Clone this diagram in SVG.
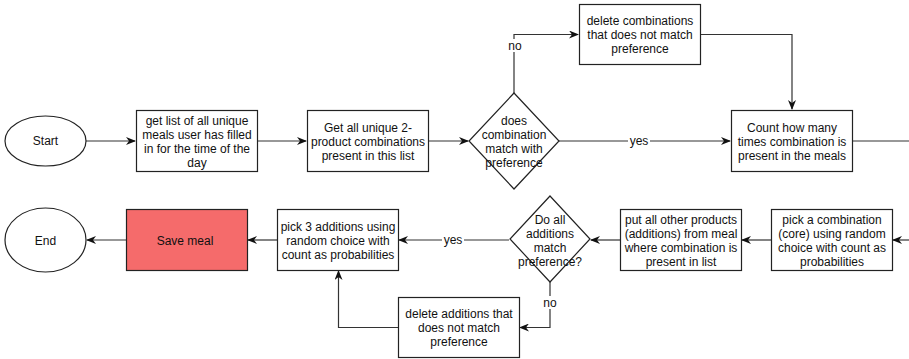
<svg xmlns="http://www.w3.org/2000/svg" width="909" height="359" viewBox="0 0 909 359">
  <style>
    .node { fill: #ffffff; stroke: #222222; stroke-width: 1.2; }
    .save { fill: #f56b6b; }
    .edge { fill: none; stroke: #333333; stroke-width: 1.2; marker-end: url(#arrow); }
    .edge-plain { fill: none; stroke: #333333; stroke-width: 1.2; }
    text { font-family: "Liberation Sans", Arial, sans-serif; font-size: 12px; fill: #111111; text-anchor: middle; dominant-baseline: central; }
    .lbl-bg { fill: #ffffff; }
  </style>
  <defs>
    <marker id="arrow" viewBox="0 0 10 8" refX="9" refY="4" markerWidth="10" markerHeight="8" markerUnits="userSpaceOnUse" orient="auto">
      <path d="M0,0 L10,4 L0,8 L3,4 z" fill="#111111"/>
    </marker>
  </defs>

  <g id="connectors">
    <path class="edge" d="M86,141 H135"/>
    <path class="edge" d="M257,141 H306"/>
    <path class="edge" d="M428,141 H468"/>
    <path class="edge" d="M559,141 H730"/>
    <path class="edge" d="M514,93 V34.5 H578"/>
    <path class="edge" d="M701,34.5 H792 V109"/>
    <path class="edge-plain" d="M852,141 H909"/>
    <path class="edge" d="M909,240 H893"/>
    <path class="edge" d="M771,240 H742"/>
    <path class="edge" d="M620,240 H591"/>
    <path class="edge" d="M509,240 H399"/>
    <path class="edge" d="M550,282 V327.5 H520"/>
    <path class="edge" d="M398,327.5 H338.5 V271"/>
    <path class="edge" d="M277,240 H248"/>
    <path class="edge" d="M126,240 H87"/>
    <rect class="lbl-bg" x="628" y="134" width="22" height="13"/>
    <text x="639" y="140.5">yes</text>
    <rect class="lbl-bg" x="506" y="39" width="18" height="13"/>
    <text x="515" y="45.5">no</text>
    <rect class="lbl-bg" x="442" y="233" width="22" height="13"/>
    <text x="453" y="240">yes</text>
    <rect class="lbl-bg" x="541" y="296" width="18" height="13"/>
    <text x="550" y="302.5">no</text>
  </g>

  <g id="start">
    <ellipse class="node" cx="45.5" cy="141" rx="40.5" ry="25"/>
    <text x="45.5" y="141">Start</text>
  </g>

  <g id="get-meals">
    <rect class="node" x="136.5" y="110.5" width="121" height="61"/>
    <text x="197" y="121">get list of all unique</text>
    <text x="197" y="135">meals user has filled</text>
    <text x="197" y="149">in for the time of the</text>
    <text x="197" y="163">day</text>
  </g>

  <g id="get-combinations">
    <rect class="node" x="307.5" y="110.5" width="121" height="61"/>
    <text x="368" y="127.5">Get all unique 2-</text>
    <text x="368" y="141.5">product combinations</text>
    <text x="368" y="155.5">present in this list</text>
  </g>

  <g id="combination-check">
    <polygon class="node" points="514,93 559,141 514,189 469,141"/>
    <text x="514" y="121">does</text>
    <text x="514" y="135">combination</text>
    <text x="514" y="149">match with</text>
    <text x="514" y="163">preference</text>
  </g>

  <g id="delete-combinations">
    <rect class="node" x="579.5" y="4.5" width="121" height="60"/>
    <text x="640" y="20.5">delete combinations</text>
    <text x="640" y="34.5">that does not match</text>
    <text x="640" y="48.5">preference</text>
  </g>

  <g id="count-combinations">
    <rect class="node" x="731.5" y="110.5" width="121" height="61"/>
    <text x="792" y="127.5">Count how many</text>
    <text x="792" y="141.5">times combination is</text>
    <text x="792" y="155.5">present in the meals</text>
  </g>

  <g id="pick-combination">
    <rect class="node" x="771.5" y="209.5" width="121" height="61"/>
    <text x="832" y="219.5">pick a combination</text>
    <text x="832" y="233.5">(core) using random</text>
    <text x="832" y="247.5">choice with count as</text>
    <text x="832" y="261.5">probabilities</text>
  </g>

  <g id="collect-additions">
    <rect class="node" x="620.5" y="209.5" width="121" height="61"/>
    <text x="681" y="219.5">put all other products</text>
    <text x="681" y="233.5">(additions) from meal</text>
    <text x="681" y="247.5">where combination is</text>
    <text x="681" y="261.5">present in list</text>
  </g>

  <g id="additions-check">
    <polygon class="node" points="550,196 590,239 550,282 510,239"/>
    <text x="550" y="219.5">Do all</text>
    <text x="550" y="233.5">additions</text>
    <text x="550" y="247.5">match</text>
    <text x="550" y="261.5">preference?</text>
  </g>

  <g id="delete-additions">
    <rect class="node" x="398.5" y="297.5" width="121" height="60"/>
    <text x="459" y="313.5">delete additions that</text>
    <text x="459" y="327.5">does not match</text>
    <text x="459" y="341.5">preference</text>
  </g>

  <g id="pick-additions">
    <rect class="node" x="277.5" y="209.5" width="121" height="61"/>
    <text x="338" y="226.5">pick 3 additions using</text>
    <text x="338" y="240.5">random choice with</text>
    <text x="338" y="254.5">count as probabilities</text>
  </g>

  <g id="save-meal">
    <rect class="node save" x="126.5" y="209.5" width="121" height="61"/>
    <text x="185" y="240.5">Save meal</text>
  </g>

  <g id="end">
    <ellipse class="node" cx="45.5" cy="240" rx="40.5" ry="32"/>
    <text x="45.5" y="240.5">End</text>
  </g>
</svg>
